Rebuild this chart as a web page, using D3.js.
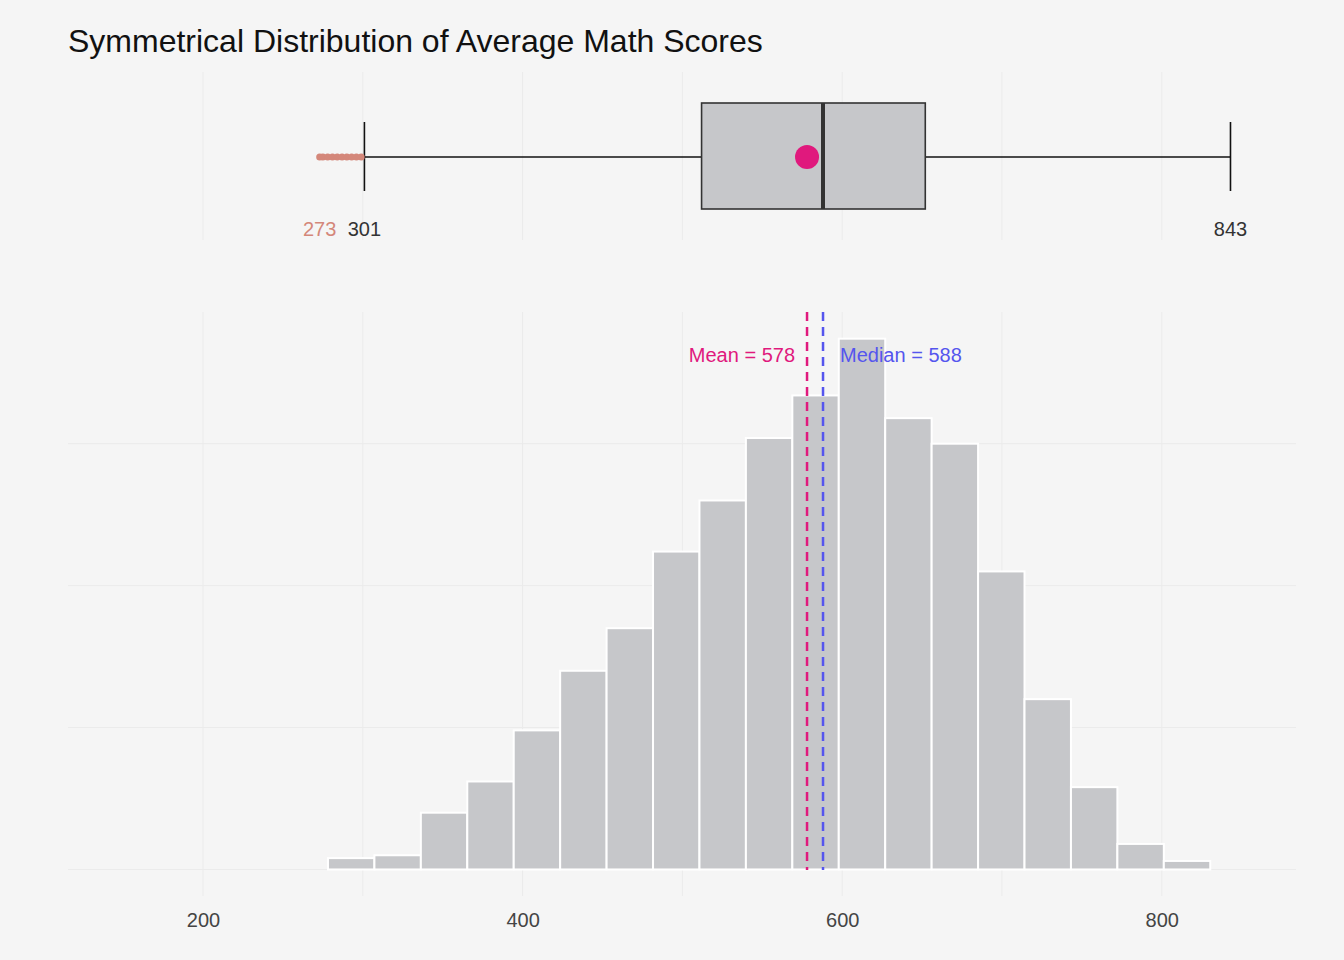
<!DOCTYPE html>
<html><head><meta charset="utf-8">
<script src="https://cdn.jsdelivr.net/npm/d3@7"></script>
<style>body{margin:0;background:#f5f5f5;font-family:Arial,"Liberation Sans",sans-serif;}</style>
</head><body>
<svg id="c" width="1344" height="960"></svg>
<script>
// histogram bins (lower edge, count)
var binStart = 278.2, binWidth = 29.06;
var counts = [4,5,20,31,49,70,85,112,130,152,167,187,159,150,105,60,29,9,3];
var stats = {min:301, q1:512, median:588, q3:652, max:843, mean:578};
var outliers = [273,275,278,281,284,287,290,293,296,299];
var xTicks = [200,400,600,800];
var yGrid = [50,100,150];

var svg = d3.select('#c');
svg.append('rect').attr('width',1344).attr('height',960).attr('fill','#f5f5f5');

var x = d3.scaleLinear().domain([115.5,884]).range([68,1296]);
var y = d3.scaleLinear().domain([-9.35,196.4]).range([896,312]);

svg.append('text').attr('x',68).attr('y',52).attr('font-size',32).attr('fill','#111')
    .text('Symmetrical Distribution of Average Math Scores');

// grid lines
var grid = svg.append('g').attr('stroke','#ebebeb').attr('stroke-width',1);
[200,300,400,500,600,700,800].forEach(function(v){
    grid.append('line').attr('x1',x(v)).attr('x2',x(v)).attr('y1',72).attr('y2',240);
    grid.append('line').attr('x1',x(v)).attr('x2',x(v)).attr('y1',312).attr('y2',896);
});
[0].concat(yGrid).concat([200]).forEach(function(v){
    if (y(v) < 312) return;
    grid.append('line').attr('x1',68).attr('x2',1296).attr('y1',y(v)).attr('y2',y(v));
});

// boxplot
var by = 157;
var bp = svg.append('g');
bp.append('line').attr('x1',x(stats.min)).attr('x2',x(stats.max)).attr('y1',by).attr('y2',by)
    .attr('stroke','#111').attr('stroke-width',1.6);
[stats.min,stats.max].forEach(function(v){
    bp.append('line').attr('x1',x(v)).attr('x2',x(v)).attr('y1',122).attr('y2',191)
        .attr('stroke','#111').attr('stroke-width',1.6);
});
bp.append('rect').attr('x',x(stats.q1)).attr('width',x(stats.q3)-x(stats.q1))
    .attr('y',103).attr('height',106).attr('fill','#c6c7ca').attr('stroke','#333').attr('stroke-width',1.6);
bp.append('line').attr('x1',x(stats.median)).attr('x2',x(stats.median)).attr('y1',103).attr('y2',209)
    .attr('stroke','#333').attr('stroke-width',4);
bp.append('circle').attr('cx',x(stats.mean)).attr('cy',by).attr('r',12).attr('fill','#e0197d');
bp.selectAll('.o').data(outliers).enter().append('circle')
    .attr('cx',function(d){return x(d);}).attr('cy',by).attr('r',3.5).attr('fill','#d4877a');
bp.append('text').attr('x',x(273)).attr('y',236).attr('text-anchor','middle').attr('font-size',20)
    .attr('fill','#d4877a').text('273');
bp.append('text').attr('x',x(301)).attr('y',236).attr('text-anchor','middle').attr('font-size',20)
    .attr('fill','#333').text('301');
bp.append('text').attr('x',x(843)).attr('y',236).attr('text-anchor','middle').attr('font-size',20)
    .attr('fill','#333').text('843');

// histogram
svg.append('g').selectAll('rect').data(counts).enter().append('rect')
    .attr('x',function(d,i){return x(binStart+i*binWidth);})
    .attr('width',x(binWidth)-x(0))
    .attr('y',function(d){return y(d);})
    .attr('height',function(d){return y(0)-y(d);})
    .attr('fill','#c6c7ca').attr('stroke','#fff').attr('stroke-width',2);

// mean / median
[[stats.mean,'#e0197d'],[stats.median,'#5555ee']].forEach(function(p){
    svg.append('line').attr('x1',x(p[0])).attr('x2',x(p[0])).attr('y1',312).attr('y2',870)
        .attr('stroke',p[1]).attr('stroke-width',2.5).attr('stroke-dasharray','9,6');
});
svg.append('text').attr('x',x(stats.mean)-12).attr('y',362).attr('text-anchor','end')
    .attr('font-size',20).attr('fill','#e0197d').text('Mean = ' + stats.mean);
svg.append('text').attr('x',x(stats.median)+17).attr('y',362)
    .attr('font-size',20).attr('fill','#5555ee').text('Median = ' + stats.median);

// x axis
var ax = svg.append('g').attr('transform','translate(0,896)')
    .call(d3.axisBottom(x).tickValues(xTicks).tickSize(0).tickPadding(17));
ax.select('.domain').remove();
ax.selectAll('text').attr('font-size',20).attr('fill','#444').attr('font-family','Arial,"Liberation Sans",sans-serif');
</script>
</body></html>
